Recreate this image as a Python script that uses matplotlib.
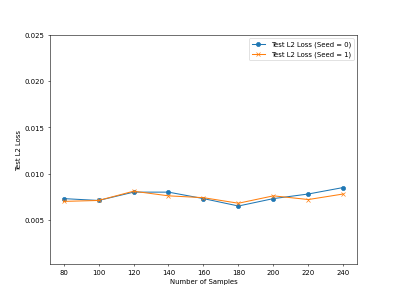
import matplotlib
matplotlib.use("Agg")
import matplotlib.pyplot as plt

samples = [80, 100, 120, 140, 160, 180, 200, 220, 240]
loss_seed0 = [0.0073, 0.0071, 0.0080, 0.0080, 0.0073, 0.0065, 0.0073, 0.0078, 0.0085]
loss_seed1 = [0.0070, 0.0071, 0.0081, 0.0076, 0.0074, 0.0068, 0.0076, 0.0072, 0.0078]

plt.figure(figsize=(8, 6), dpi=49.625)

plt.plot(samples, loss_seed0, marker='o', label='Test L2 Loss (Seed = 0)')
plt.plot(samples, loss_seed1, marker='x', label='Test L2 Loss (Seed = 1)')

plt.xticks(samples)
plt.yticks([0.005, 0.010, 0.015, 0.020, 0.025])
plt.ylim(0.0002, 0.025)

plt.xlabel("Number of Samples")
plt.ylabel("Test L2 Loss")
plt.legend(loc='upper right')

plt.savefig("out.png", dpi=49.625)
